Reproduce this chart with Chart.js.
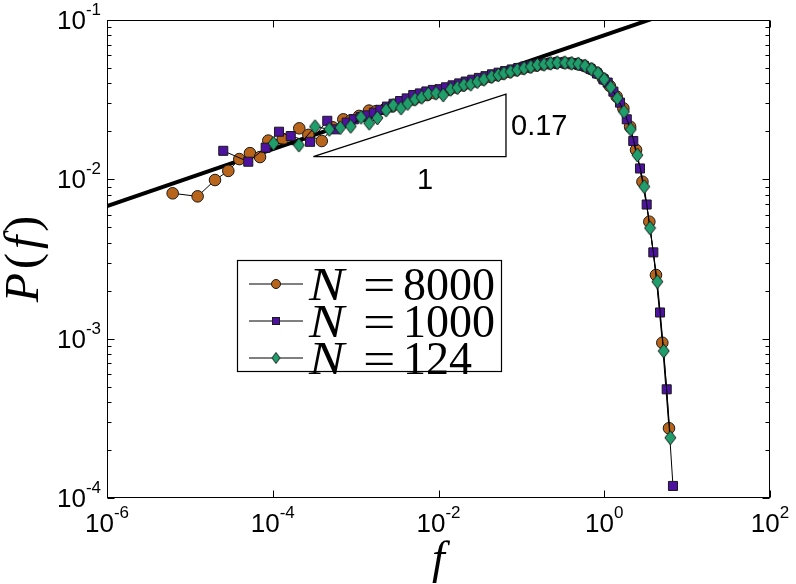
<!DOCTYPE html>
<html>
<head>
<meta charset="utf-8">
<script src="https://cdn.jsdelivr.net/npm/chart.js@4.4.1/dist/chart.umd.min.js"></script>
<style>
  html, body { margin: 0; padding: 0; background: #fff; }
</style>
</head>
<body>
<canvas id="pf" width="796" height="584"></canvas>
<script>
// N = 8000
var fOrange = [6.2e-6, 1.24e-5, 2.01e-5, 2.91e-5, 3.95e-5, 5.31e-5, 7.02e-5, 8.84e-5, 1.32e-4, 2.09e-4,
  2.69e-4, 3.9e-4, 5.3e-4, 7.1e-4, 8.8e-4, 1.1e-3, 1.45e-3, 1.77e-3, 2.25e-3, 2.76e-3,
  3.42e-3, 4.12e-3, 5.05e-3, 6.08e-3, 7.3e-3, 9.05e-3, 0.0111, 0.0136, 0.0164, 0.0197,
  0.0237, 0.0285, 0.0343, 0.0426, 0.0511, 0.0599, 0.0721, 0.0866, 0.104, 0.126,
  0.151, 0.182, 0.219, 0.263, 0.326, 0.393, 0.472, 0.568, 0.685, 0.816,
  0.97, 1.17, 1.41, 1.70, 2.05, 2.42, 2.89, 3.50, 4.21, 5.02, 6.04];
var pOrange = [8.17e-3, 7.82e-3, 9.9e-3, 0.0113, 0.0134, 0.0146, 0.0138, 0.0175, 0.0179, 0.0209,
  0.0190, 0.0174, 0.0212, 0.0238, 0.0235, 0.0250, 0.0270, 0.0268, 0.0276, 0.0287,
  0.0296, 0.0306, 0.0317, 0.0328, 0.0338, 0.0347, 0.0355, 0.0366, 0.0377, 0.0389,
  0.0400, 0.0412, 0.0424, 0.0439, 0.0451, 0.0461, 0.0472, 0.0484, 0.0496, 0.0507,
  0.0518, 0.0526, 0.0533, 0.0538, 0.0539, 0.0535, 0.0529, 0.0516, 0.0493, 0.0466,
  0.0428, 0.0385, 0.0331, 0.0279, 0.0214, 0.0153, 0.00966, 0.00542, 0.00251, 9.43e-4, 2.74e-4];

// N = 1000
var fPurple = [2.53e-5, 5.07e-5, 8.22e-5, 1.19e-4, 1.65e-4, 2.82e-4, 4.55e-4, 5.64e-4, 7.8e-4, 9.5e-4,
  1.15e-3, 1.38e-3, 1.66e-3, 1.99e-3, 2.39e-3, 2.87e-3, 3.44e-3, 4.13e-3, 4.96e-3, 5.95e-3,
  7.14e-3, 8.57e-3, 0.0103, 0.0123, 0.0148, 0.0178, 0.0213, 0.0256, 0.0307, 0.0369,
  0.0442, 0.0531, 0.0637, 0.0764, 0.0917, 0.110, 0.132, 0.158, 0.190, 0.228,
  0.274, 0.329, 0.394, 0.473, 0.568, 0.682, 0.818, 0.98, 1.10, 1.29,
  1.55, 1.87, 2.24, 2.70, 3.25, 3.91, 4.71, 5.67, 6.75];
var pPurple = [0.0151, 0.0129, 0.0158, 0.0199, 0.0187, 0.0172, 0.0233, 0.0206, 0.0227, 0.0238,
  0.0246, 0.0252, 0.0262, 0.0273, 0.0286, 0.0298, 0.0310, 0.0322, 0.0338, 0.0346,
  0.0356, 0.0364, 0.0368, 0.0378, 0.0389, 0.0400, 0.0411, 0.0422, 0.0433, 0.0444,
  0.0456, 0.0467, 0.0478, 0.0489, 0.0500, 0.0510, 0.0519, 0.0527, 0.0533, 0.0538,
  0.0541, 0.0540, 0.0536, 0.0529, 0.0515, 0.0493, 0.0462, 0.0424, 0.0405, 0.0355,
  0.0303, 0.0238, 0.0174, 0.0117, 0.00695, 0.00348, 0.00146, 4.81e-4, 1.19e-4];

// N = 124
var fGreen = [1.02e-4, 2.07e-4, 3.24e-4, 4.81e-4, 6.53e-4, 8.72e-4, 1.16e-3, 1.46e-3, 1.83e-3, 2.33e-3,
  2.85e-3, 3.53e-3, 4.25e-3, 5.2e-3, 6.27e-3, 7.53e-3, 9.33e-3, 0.0114, 0.0140, 0.0169,
  0.0203, 0.0245, 0.0294, 0.0354, 0.0439, 0.0527, 0.0617, 0.0743, 0.0893, 0.108,
  0.130, 0.156, 0.188, 0.226, 0.271, 0.336, 0.405, 0.486, 0.586, 0.706,
  0.841, 1.00, 1.20, 1.44, 1.73, 2.09, 2.51, 3.04, 3.57, 4.37, 5.22, 6.27];
var pGreen = [0.0168, 0.0164, 0.0214, 0.0206, 0.0211, 0.0215, 0.0245, 0.0225, 0.0243, 0.0272,
  0.0291, 0.0280, 0.0299, 0.0318, 0.0327, 0.0343, 0.0347, 0.0338, 0.0367, 0.0376,
  0.0391, 0.0395, 0.0410, 0.0424, 0.0441, 0.0452, 0.0463, 0.0474, 0.0486, 0.0498,
  0.0509, 0.0522, 0.0527, 0.0535, 0.0540, 0.0540, 0.0535, 0.0530, 0.0515, 0.0491,
  0.0463, 0.0424, 0.0378, 0.0323, 0.0266, 0.0206, 0.0142, 0.0090, 0.00495, 0.00228, 8.37e-4, 2.39e-4];

// power law guide, slope 0.17, and its triangle
var fitF = [1e-6, 10];
var fitP = [6.8e-3, 0.121];
var triF = [3.085e-4, 0.0652, 0.0652, 3.085e-4];
var triP = [0.01387, 0.01387, 0.0342, 0.01387];

var seriesNames = ['8000', '1000', '124'];
var seriesColors = ['#b8651b', '#4e12a0', '#1f9e6c'];

var xTicks = [1e-6, 1e-4, 1e-2, 1e0, 1e2];
var xTickExp = ['-6', '-4', '-2', '0', '2'];
var yTicks = [1e-4, 1e-3, 1e-2, 1e-1];
var yTickExp = ['-4', '-3', '-2', '-1'];

function toPoints(xs, ys) {
  return xs.map(function (x, i) { return { x: x, y: ys[i] }; });
}

function diamondImage(fill, hw, hh) {
  var c = document.createElement('canvas');
  c.width = Math.ceil(hw * 2 + 2);
  c.height = Math.ceil(hh * 2 + 2);
  var g = c.getContext('2d');
  var cx = c.width / 2, cy = c.height / 2;
  g.beginPath();
  g.moveTo(cx, cy - hh);
  g.lineTo(cx + hw, cy);
  g.lineTo(cx, cy + hh);
  g.lineTo(cx - hw, cy);
  g.closePath();
  g.fillStyle = fill;
  g.fill();
  g.lineWidth = 1;
  g.strokeStyle = '#1a1a1a';
  g.stroke();
  return c;
}

var bigDiamond = diamondImage(seriesColors[2], 5.5, 7);
var smallDiamond = diamondImage(seriesColors[2], 4, 5.5);

var sans = '"Liberation Sans", Arial, sans-serif';
var serif = '"Liberation Serif", "Times New Roman", serif';

function drawPow(ctx, exp, x, y, align) {
  ctx.font = '26px ' + sans;
  var wb = ctx.measureText('10').width;
  ctx.font = '17px ' + sans;
  var we = ctx.measureText(exp).width;
  var left = align === 'center' ? x - (wb + we) / 2 : x - wb - we;
  ctx.textAlign = 'left';
  ctx.textBaseline = 'alphabetic';
  ctx.font = '26px ' + sans;
  ctx.fillText('10', left, y);
  ctx.font = '17px ' + sans;
  ctx.fillText(exp, left + wb, y - 14);
}

function drawPieces(ctx, pieces, x, y, gap) {
  var total = 0;
  pieces.forEach(function (p) {
    ctx.font = p.font;
    p.w = ctx.measureText(p.t).width;
    total += p.w;
  });
  total += gap * (pieces.length - 1);
  var cx = x - total / 2;
  ctx.textAlign = 'left';
  pieces.forEach(function (p) {
    ctx.font = p.font;
    ctx.fillText(p.t, cx, y);
    cx += p.w + gap;
  });
}

var frame = {
  id: 'frame',
  afterDatasetsDraw: function (chart) {
    var ctx = chart.ctx, a = chart.chartArea;
    var xs = chart.scales.x, ys = chart.scales.y;
    var L = Math.round(a.left) + 0.5, R = Math.round(a.right) - 0.5;
    var T = Math.round(a.top) + 0.5, B = Math.round(a.bottom) - 0.5;
    ctx.save();
    ctx.strokeStyle = '#000';
    ctx.fillStyle = '#000';
    ctx.lineWidth = 1;
    ctx.strokeRect(L, T, R - L, B - T);

    // ticks, pointing inward on all four sides
    ctx.beginPath();
    xTicks.forEach(function (v) {
      var px = Math.round(xs.getPixelForValue(v)) + 0.5;
      ctx.moveTo(px, B); ctx.lineTo(px, B - 7);
      ctx.moveTo(px, T); ctx.lineTo(px, T + 7);
    });
    yTicks.forEach(function (v, i) {
      var py = Math.round(ys.getPixelForValue(v)) + 0.5;
      ctx.moveTo(L, py); ctx.lineTo(L + 7, py);
      ctx.moveTo(R, py); ctx.lineTo(R - 7, py);
      if (i < yTicks.length - 1) {
        for (var m = 2; m <= 9; m++) {
          var q = Math.round(ys.getPixelForValue(v * m)) + 0.5;
          ctx.moveTo(L, q); ctx.lineTo(L + 4, q);
          ctx.moveTo(R, q); ctx.lineTo(R - 4, q);
        }
      }
    });
    ctx.stroke();

    xTicks.forEach(function (v, i) {
      drawPow(ctx, xTickExp[i], xs.getPixelForValue(v), a.bottom + 34, 'center');
    });
    yTicks.forEach(function (v, i) {
      drawPow(ctx, yTickExp[i], a.left - 6, ys.getPixelForValue(v) + 9, 'right');
    });

    // axis titles
    ctx.textBaseline = 'alphabetic';
    drawPieces(ctx, [{ t: 'f', font: 'italic 46px ' + serif }], (a.left + a.right) / 2, 573, 0);
    ctx.save();
    ctx.translate(38, (a.top + a.bottom) / 2);
    ctx.rotate(-Math.PI / 2);
    drawPieces(ctx, [
      { t: 'P', font: 'italic 48px ' + serif },
      { t: '(', font: '48px ' + serif },
      { t: 'f', font: 'italic 48px ' + serif },
      { t: ')', font: '48px ' + serif }
    ], 0, 0, 4);
    ctx.restore();

    // slope labels
    ctx.font = '29px ' + sans;
    ctx.textAlign = 'left';
    ctx.fillText('0.17', 511, 135);
    ctx.textAlign = 'center';
    ctx.fillText('1', 425, 189);

    // legend
    ctx.fillStyle = '#fff';
    ctx.fillRect(237.5, 260.5, 264, 111);
    ctx.strokeStyle = '#000';
    ctx.lineWidth = 1.2;
    ctx.strokeRect(237.5, 260.5, 264, 111);
    var rows = [284, 321, 358];
    rows.forEach(function (ry, i) {
      ctx.strokeStyle = '#000';
      ctx.lineWidth = 1;
      ctx.beginPath();
      ctx.moveTo(249, ry); ctx.lineTo(303, ry);
      ctx.stroke();
      ctx.fillStyle = seriesColors[i];
      ctx.strokeStyle = '#1a1a1a';
      if (i === 0) {
        ctx.beginPath(); ctx.arc(276, ry, 4.5, 0, Math.PI * 2);
        ctx.fill(); ctx.stroke();
      } else if (i === 1) {
        ctx.fillRect(272.5, ry - 3.5, 7, 7);
        ctx.strokeRect(272.5, ry - 3.5, 7, 7);
      } else {
        ctx.drawImage(smallDiamond, 276 - smallDiamond.width / 2, ry - smallDiamond.height / 2);
      }
      ctx.fillStyle = '#000';
      ctx.textAlign = 'left';
      ctx.font = 'italic 46px ' + serif;
      ctx.save();
      ctx.translate(309, ry + 16);
      ctx.scale(1.15, 1);
      ctx.fillText('N', 0, 0);
      ctx.restore();
      ctx.font = '46px ' + serif;
      ctx.save();
      ctx.translate(363, ry + 16);
      ctx.scale(1.25, 1);
      ctx.fillText('=', 0, 0);
      ctx.restore();
      ctx.fillText(seriesNames[i], 403, ry + 16);
    });
    ctx.restore();
  }
};

function series(xs, ys, color, style, radius, order) {
  return {
    data: toPoints(xs, ys),
    showLine: true,
    borderColor: '#000',
    borderWidth: 1,
    pointStyle: style,
    pointRadius: radius,
    pointBackgroundColor: color,
    pointBorderColor: '#1a1a1a',
    pointBorderWidth: 1,
    order: order
  };
}

var ctx = document.getElementById('pf').getContext('2d');
new Chart(ctx, {
  type: 'scatter',
  data: {
    datasets: [
      series(fOrange, pOrange, seriesColors[0], 'circle', 5.8, 4),
      series(fPurple, pPurple, seriesColors[1], 'rect', 6.4, 3),
      series(fGreen, pGreen, seriesColors[2], bigDiamond, 6, 2),
      {
        data: toPoints(fitF, fitP),
        showLine: true,
        borderColor: '#000',
        borderWidth: 4,
        pointRadius: 0,
        clip: 0,
        order: 5
      },
      {
        data: toPoints(triF, triP),
        showLine: true,
        borderColor: '#000',
        borderWidth: 1.3,
        pointRadius: 0,
        order: 1
      }
    ]
  },
  options: {
    responsive: false,
    animation: false,
    events: [],
    layout: { padding: { left: 107, right: 26, top: 20, bottom: 86 } },
    plugins: { legend: { display: false }, tooltip: { enabled: false } },
    scales: {
      x: {
        type: 'logarithmic', min: 1e-6, max: 1e2,
        grid: { display: false }, border: { display: false }, ticks: { display: false },
        afterFit: function (s) { s.height = 0; }
      },
      y: {
        type: 'logarithmic', min: 1e-4, max: 1e-1,
        grid: { display: false }, border: { display: false }, ticks: { display: false },
        afterFit: function (s) { s.width = 0; }
      }
    }
  },
  plugins: [frame]
});
</script>
</body>
</html>
